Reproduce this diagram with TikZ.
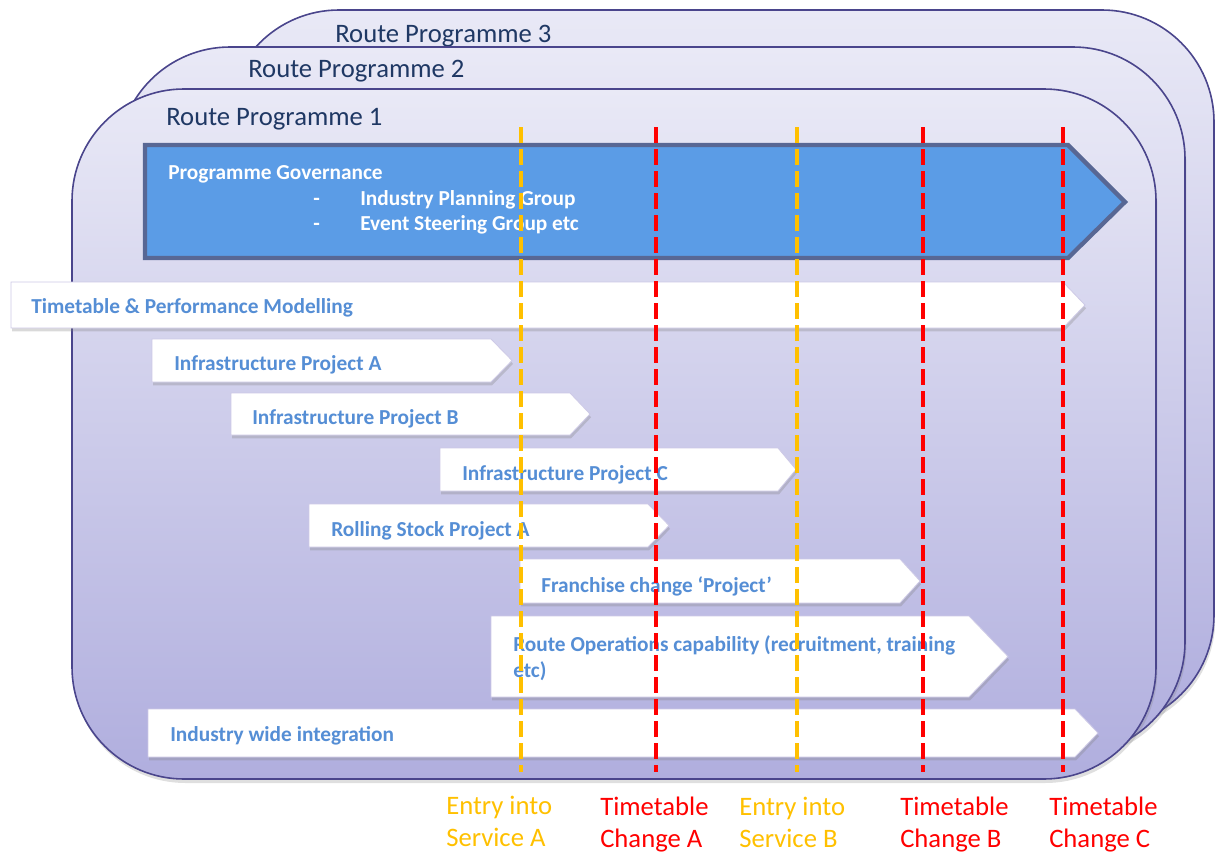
\documentclass[tikz,border=0pt]{standalone}
\usepackage{fontspec}
\setmainfont{Carlito}
\usetikzlibrary{shadows}
\definecolor{rpborder}{RGB}{74,69,140}
\definecolor{rptop}{RGB}{233,233,246}
\definecolor{rpbot}{RGB}{176,174,222}
\definecolor{rptext}{RGB}{31,56,100}
\definecolor{govfill}{RGB}{91,156,230}
\definecolor{govborder}{RGB}{88,103,148}
\definecolor{bartext}{RGB}{85,142,213}
\definecolor{barborder}{RGB}{205,201,230}
\definecolor{eisyellow}{RGB}{255,192,0}
\definecolor{tcred}{RGB}{255,0,0}
\tikzset{
 rpbox/.style={draw=rpborder, line width=1.2pt, rounded corners=84pt, top color=rptop, bottom color=rpbot,
   drop shadow={opacity=0.25, shadow xshift=1pt, shadow yshift=-3pt}},
 rplabel/.style={anchor=base west, inner sep=0pt, text=rptext, font=\fontsize{20}{24}\selectfont},
 govbox/.style={draw=govborder, fill=govfill, line width=3.2pt, line join=miter},
 govtext/.style={anchor=base west, inner sep=0pt, text=white, font=\bfseries\fontsize{16}{19}\selectfont},
 wbar/.style={fill=white, draw=barborder, line width=0.6pt, drop shadow={opacity=0.3, shadow xshift=0.8pt, shadow yshift=-2.5pt}},
 bartxt/.style={anchor=base west, inner sep=0pt, text=bartext, font=\bfseries\fontsize{16}{19}\selectfont},
 msline/.style={line width=3.3pt, dash pattern=on 12pt off 4.5pt},
 mslabel/.style={anchor=base west, inner sep=0pt, font=\fontsize{20}{24}\selectfont}
}
\newcommand{\chevbar}[5]{\path[wbar] (#1,#2) -- (#3,#2) -- (#4,{(#2+#5)/2}) -- (#3,#5) -- (#1,#5) -- cycle;}
\begin{document}
\begin{tikzpicture}[x=0.75pt,y=-0.75pt]
\useasboundingbox (0,0) rectangle (1215,853);
% route programme boxes
\path[rpbox] (227,10) rectangle (1214,727);
\node[rplabel] (rp3) at (335,42) {Route Programme 3};
\path[rpbox] (118,47) rectangle (1185,754);
\node[rplabel] (rp2) at (248,77) {Route Programme 2};
\path[rpbox] (72,89) rectangle (1156,779);
\node[rplabel] (rp1) at (166,125) {Route Programme 1};
% governance arrow
\path[govbox] (145,145) -- (1068,145) -- (1125,202) -- (1068,258) -- (145,258) -- cycle;
\node[govtext] (gov) at (168,179) {Programme Governance};
\node[govtext] (d1) at (313,205) {-};
\node[govtext] (ipg) at (360,205) {Industry Planning Group};
\node[govtext] (d2) at (313,230) {-};
\node[govtext] (esg) at (360,230) {Event Steering Group etc};
% bars
\chevbar{11}{282}{1063}{1085}{328}
\node[bartxt] (tpm) at (31,313) {Timetable \& Performance Modelling};
\chevbar{152}{339}{491}{512}{382}
\node[bartxt] (ipa) at (174,370) {Infrastructure Project A};
\chevbar{231}{393}{570}{590}{435}
\node[bartxt] (ipb) at (252,424) {Infrastructure Project B};
\chevbar{440}{448}{778}{796}{491}
\node[bartxt] (ipc) at (462,480) {Infrastructure Project C};
\chevbar{309}{504}{648}{669}{547}
\node[bartxt] (rsa) at (331,536) {Rolling Stock Project A};
\chevbar{520}{559}{900}{920}{603}
\node[bartxt] (fcp) at (541,592) {Franchise change ‘Project’};
\chevbar{491}{616}{969}{1008}{697}
\node[bartxt] (ro1) at (513,651) {Route Operations capability (recruitment, training};
\node[bartxt] (ro2) at (513,677) {etc)};
\chevbar{148}{709}{1075}{1098}{757}
\node[bartxt] (iwi) at (170,741) {Industry wide integration};
% milestone lines
\coordinate (eaT) at (521,127); \coordinate (eaB) at (521,772);
\coordinate (caT) at (656,127); \coordinate (caB) at (656,772);
\coordinate (ebT) at (797,127); \coordinate (ebB) at (797,772);
\coordinate (cbT) at (923,127); \coordinate (cbB) at (923,772);
\coordinate (ccT) at (1063,127); \coordinate (ccB) at (1063,772);
\draw[msline, eisyellow] (eaT) -- (eaB);
\draw[msline, tcred] (caT) -- (caB);
\draw[msline, eisyellow] (ebT) -- (ebB);
\draw[msline, tcred] (cbT) -- (cbB);
\draw[msline, tcred] (ccT) -- (ccB);
% milestone labels
\node[mslabel, text=eisyellow] (ea1) at (446,814) {Entry into};
\node[mslabel, text=eisyellow] (ea2) at (446,846) {Service A};
\node[mslabel, text=tcred] (ca1) at (600,815) {Timetable};
\node[mslabel, text=tcred] (ca2) at (600,847) {Change A};
\node[mslabel, text=eisyellow] (eb1) at (739,815) {Entry into};
\node[mslabel, text=eisyellow] (eb2) at (739,847) {Service B};
\node[mslabel, text=tcred] (cb1) at (900,815) {Timetable};
\node[mslabel, text=tcred] (cb2) at (900,847) {Change B};
\node[mslabel, text=tcred] (cc1) at (1049,815) {Timetable};
\node[mslabel, text=tcred] (cc2) at (1049,847) {Change C};
\end{tikzpicture}
\end{document}
